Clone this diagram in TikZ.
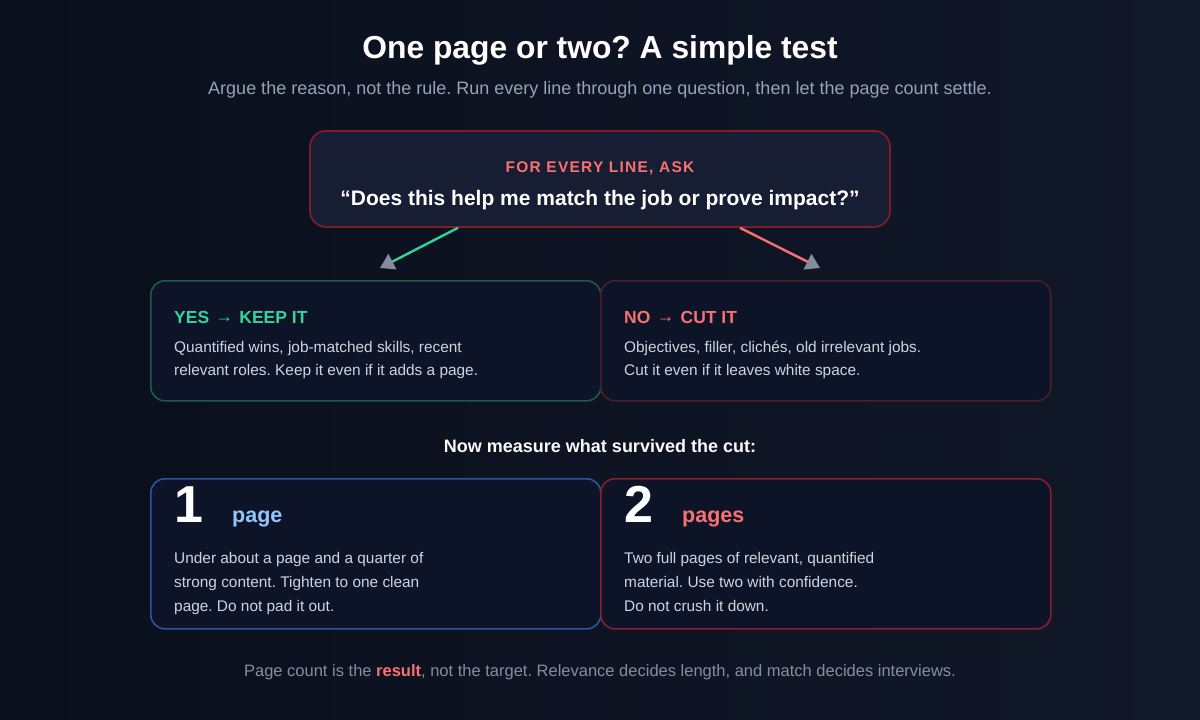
\documentclass[tikz,border=0pt]{standalone}
\usepackage{fontspec}
\setmainfont{Liberation Sans}
\usetikzlibrary{arrows.meta, positioning}
\definecolor{bgdark}{HTML}{0A0F1C}
\definecolor{bglight}{HTML}{111828}
\definecolor{panel}{HTML}{0E1427}
\definecolor{askfill}{HTML}{171D32}
\definecolor{askborder}{HTML}{7F1D26}
\definecolor{yesborder}{HTML}{1F5A48}
\definecolor{noborder}{HTML}{4A1E29}
\definecolor{oneborder}{HTML}{2B569C}
\definecolor{twoborder}{HTML}{88202B}
\definecolor{softred}{HTML}{F87171}
\definecolor{keepgreen}{HTML}{34D399}
\definecolor{pageblue}{HTML}{93C5FD}
\definecolor{bodygray}{HTML}{CBD5E1}
\definecolor{subgray}{HTML}{94A3B8}
\definecolor{footgray}{HTML}{858EA0}
\definecolor{tipgray}{HTML}{868B9B}
\frenchspacing
\newcommand{\midarrow}{\hspace{1.5pt}\raisebox{1pt}{→}\hspace{1.5pt}}

\begin{document}
\begin{tikzpicture}[x=1pt, y=-1pt,
    every node/.style={inner sep=0pt, text=bodygray},
    card/.style={
        rectangle,
        rounded corners=14pt,
        line width=1.6pt,
        fill=panel,
        minimum width=450pt,
        anchor=north west
    },
    heading/.style={anchor=base west, font=\fontsize{17.5}{20}\selectfont\bfseries},
    body/.style={anchor=base west, align=left, font=\fontsize{15.4}{23}\selectfont},
    bignum/.style={anchor=base west, text=white, font=\fontsize{52}{52}\selectfont\bfseries},
    unit/.style={anchor=base west, font=\fontsize{21.5}{24}\selectfont\bfseries},
    link/.style={line width=2.4pt, -{Triangle[color=tipgray, length=14pt, width=17pt]}}
]

% BACKGROUND
\shade[shading angle=135, left color=bgdark, right color=bglight] (0,0) rectangle (1200,720);
\useasboundingbox (0,0) rectangle (1200,720);

% TITLE
\node[text=white, font=\fontsize{31.8}{34}\selectfont\bfseries, anchor=base] (title) at (600,58) {One page or two? A simple test};
\node[text=subgray, font=\fontsize{18}{20}\selectfont, anchor=base] (subtitle) at (600,94) {Argue the reason, not the rule. Run every line through one question, then let the page count settle.};

% QUESTION
\node[rectangle, rounded corners=16pt, line width=1.8pt, draw=askborder, fill=askfill,
      minimum width=580pt, minimum height=96pt, anchor=north] (ask) at (600,130) {};
\node[text=softred, anchor=base, font=\fontsize{15.5}{18}\selectfont\bfseries\addfontfeatures{LetterSpace=8}] (asklabel) at (600,172) {FOR EVERY LINE, ASK};
\node[text=white, anchor=base, font=\fontsize{21}{24}\selectfont\bfseries] (question) at (600,205) {“Does this help me match the job or prove impact?”};

% KEEP / CUT
\node[card, draw=yesborder, minimum height=120pt] (keep) at (150,280) {};
\node[card, draw=noborder, minimum height=120pt] (cut) at (600,280) {};
\node[heading, text=keepgreen] (keeptitle) at (174,323) {YES \midarrow{} KEEP IT};
\node[body] (keeptext) at (174,375) {Quantified wins, job-matched skills, recent\\relevant roles. Keep it even if it adds a page.};
\node[heading, text=softred] (cuttitle) at (624,323) {NO \midarrow{} CUT IT};
\node[body] (cuttext) at (624,375) {Objectives, filler, clichés, old irrelevant jobs.\\Cut it even if it leaves white space.};

% ARROWS
\coordinate (keepin) at (380,268);
\coordinate (cutin) at (820,268);
\draw[link, draw=keepgreen] ([xshift=-142pt]ask.south) -- (keepin);
\draw[link, draw=softred] ([xshift=140pt]ask.south) -- (cutin);

% MEASURE
\node[text=white!88!bodygray, anchor=base, font=\fontsize{18}{20}\selectfont\bfseries] (measure) at (600,452) {Now measure what survived the cut:};

\node[card, draw=oneborder, minimum height=150pt] (one) at (150,478) {};
\node[card, draw=twoborder, minimum height=150pt] (two) at (600,478) {};
\node[bignum] (onenum) at (174,522) {1};
\node[unit, text=pageblue] (oneunit) at (232,522) {page};
\node[body, font=\fontsize{15.4}{24}\selectfont] (onetext) at (174,611) {Under about a page and a quarter of\\strong content. Tighten to one clean\\page. Do not pad it out.};
\node[bignum] (twonum) at (624,522) {2};
\node[unit, text=softred] (twounit) at (682,522) {pages};
\node[body, font=\fontsize{15.4}{24}\selectfont] (twotext) at (624,611) {Two full pages of relevant, quantified\\material. Use two with confidence.\\Do not crush it down.};

% FOOTER
\node[text=footgray, anchor=base, font=\fontsize{16.5}{19}\selectfont] (footer) at (600,676) {Page count is the \textcolor{softred}{\bfseries result}, not the target. Relevance decides length, and match decides interviews.};

\end{tikzpicture}
\end{document}
